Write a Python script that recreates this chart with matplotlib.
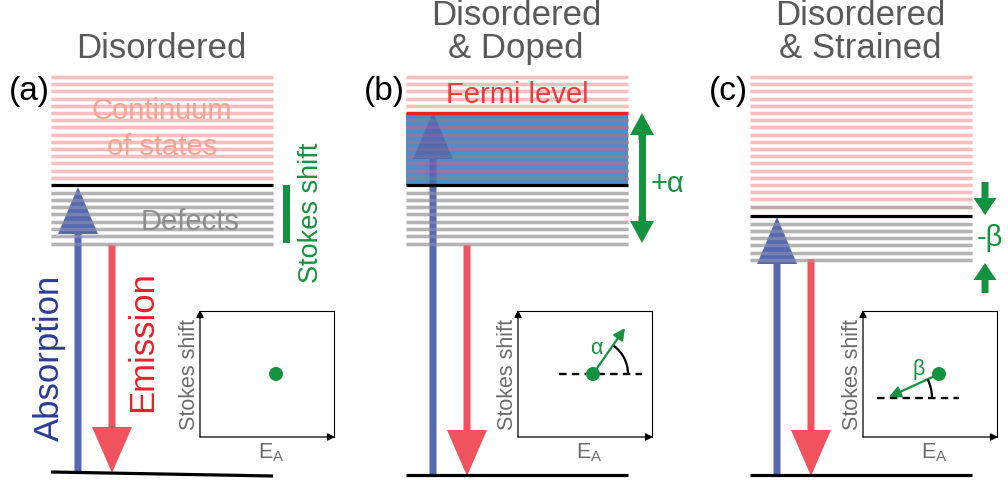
import matplotlib.pyplot as plt
from matplotlib.patches import FancyArrow, Rectangle, Circle, Arc

plt.rcParams['font.family'] = ['Liberation Sans', 'DejaVu Sans']
plt.rcParams['mathtext.fontset'] = 'custom'
plt.rcParams['mathtext.rm'] = 'Liberation Sans'

# ---- schematic values (figure pixels, y grows downward) ----
titles = [["Disordered"], ["Disordered", "& Doped"], ["Disordered", "& Strained"]]
panel_labels = ["(a)", "(b)", "(c)"]
band_left = [51, 406, 750]
n_continuum = [15, 15, 19]      # number of continuum levels
n_defects = [8, 8, 6]           # number of defect levels
edge_y = [185, 185, 216]        # band edge (black line)
fermi_index = [None, 5, None]   # continuum level replaced by the Fermi level
absorb_top = [187, 112, 217]
emit_top = [245, 245, 259]
ground_y = [(472, 476), (475, 475), (475, 475)]
inset_left = [200, 518, 863]
dot_xy = [(276, 374), (593, 374), (939, 374)]
shift_tip = [None, (625, 328), (889, 397)]
dash_span = [None, (559, 642), (877, 959)]
angle_names = [None, "α", "β"]

PINK = "#f9bcbf"
GRAY = "#b3b3b3"
GREEN = "#15923f"
BLUE = "#5568b0"
RED = "#f0535e"

fig = plt.figure(figsize=(10.08, 4.8), dpi=100)
ax = fig.add_axes([0, 0, 1, 1])
ax.set_xlim(0, 1008)
ax.set_ylim(480, 0)
ax.axis('off')

BW = 222
CONT_TOP = 77
CONT_STEP = 7.2
DEF_STEP = 7.3


def level_lines(i):
    out = []
    for k in range(n_continuum[i]):
        y = CONT_TOP + k * CONT_STEP
        c = PINK
        if fermi_index[i] is not None:
            if k == fermi_index[i] - 1:
                c = "#f6c3b2"
            elif k == fermi_index[i]:
                continue
            elif k > fermi_index[i]:
                c = "#8b7b9f"
        if i == 2 and k == n_continuum[i] - 1:
            c = "#bfaaaa"
        out.append((y, c))
    for k in range(n_defects[i]):
        out.append((edge_y[i] + 7.5 + k * DEF_STEP, GRAY))
    return out


for i in range(3):
    x0 = band_left[i]
    x1 = x0 + BW
    if fermi_index[i] is not None:
        fy = CONT_TOP + fermi_index[i] * CONT_STEP
        ax.add_patch(Rectangle((x0, fy), BW, edge_y[i] - fy, color="#4790d0", lw=0, zorder=0.5))
    lines = level_lines(i)
    for y, c in lines:
        ax.plot([x0, x1], [y, y], color=c, lw=2.5, solid_capstyle='butt', zorder=1)
    if fermi_index[i] is not None:
        fy = CONT_TOP + fermi_index[i] * CONT_STEP
        ax.plot([x0, x1], [fy, fy], color="#e8202f", lw=2.5, solid_capstyle='butt', zorder=4)
        ax.text((x0 + x1) / 2, 103, "Fermi level", color="#ef3b3b", fontsize=21,
                ha='center', va='baseline', zorder=5)
    ax.plot([x0, x1], [edge_y[i], edge_y[i]], color='black', lw=2.3, solid_capstyle='butt', zorder=4)
    ax.plot([x0, x1], list(ground_y[i]), color='black', lw=2.3, solid_capstyle='butt', zorder=4)

    # absorption and emission arrows
    ax_x = x0 + 27
    y0 = ground_y[i][0] + 1
    ax.add_patch(FancyArrow(ax_x, y0, 0, absorb_top[i] - y0, width=7, head_width=40,
                            head_length=47, length_includes_head=True, color=BLUE, lw=0, zorder=2))
    em_x = x0 + 61
    ax.add_patch(FancyArrow(em_x, emit_top[i], 0, ground_y[i][0] + 1 - emit_top[i], width=7,
                            head_width=40, head_length=46, length_includes_head=True,
                            color=RED, lw=0, zorder=2))
    # levels seen through the arrows
    for y, c in lines:
        ax.plot([x0, x1], [y, y], color=c, lw=2.5, solid_capstyle='butt', alpha=0.35, zorder=3)

    # titles and labels
    cx = x0 + BW / 2
    if len(titles[i]) == 1:
        ax.text(cx - 1, 58, titles[i][0], color="#595959", fontsize=25, ha='center', va='baseline')
    else:
        ax.text(cx - 1, 25, titles[i][0], color="#595959", fontsize=25, ha='center', va='baseline')
        ax.text(cx - 1, 58, titles[i][1], color="#595959", fontsize=25, ha='center', va='baseline')
    ax.text(x0 - 22, 100, panel_labels[i], color='black', fontsize=24, ha='center', va='baseline')

    # inset
    L = inset_left[i]
    R = L + 134
    T, B = 311, 437
    ax.plot([L, R], [T, T], color='black', lw=0.8)
    ax.plot([R, R], [T, B], color='black', lw=0.8)
    ax.annotate('', xy=(L, T - 1), xytext=(L, B),
                arrowprops=dict(arrowstyle='-|>', lw=0.9, color='black', mutation_scale=11,
                                shrinkA=0, shrinkB=0))
    ax.annotate('', xy=(R + 1, B), xytext=(L, B),
                arrowprops=dict(arrowstyle='-|>', lw=0.9, color='black', mutation_scale=11,
                                shrinkA=0, shrinkB=0))
    ax.text(L - 5, (T + B) / 2, "Stokes shift", color="#6b6b6b", fontsize=15.5, rotation=90,
            rotation_mode='anchor', ha='center', va='baseline')
    ax.text(L + 71, 458, r"E$_\mathregular{A}$", color="#6b6b6b", fontsize=15.5,
            ha='center', va='baseline')

    dx, dy = dot_xy[i]
    if shift_tip[i] is not None:
        tx, ty = shift_tip[i]
        line_y = dy if i == 1 else ty + 1
        ax.plot(list(dash_span[i]), [line_y, line_y], color='black', lw=1.7,
                linestyle=(0, (3.2, 2.2)), zorder=5)
        ax.annotate('', xy=(tx, ty), xytext=(dx, dy),
                    arrowprops=dict(arrowstyle='-|>', lw=1.6, color=GREEN, mutation_scale=17,
                                    shrinkA=0, shrinkB=0), zorder=6)
        if i == 1:
            ax.add_patch(Arc((dx, dy), 70, 70, theta1=-54, theta2=0, color='black', lw=1.6, zorder=6))
            ax.text(596, 348, angle_names[i], color=GREEN, fontsize=15.5, ha='center', va='center')
        else:
            ax.add_patch(Arc((tx, line_y), 86, 86, theta1=-26, theta2=0, color='black', lw=1.6, zorder=6))
            ax.text(919, 370, angle_names[i], color=GREEN, fontsize=15.5, ha='center', va='center')
    ax.add_patch(Circle((dx, dy), 7, color=GREEN, lw=0, zorder=7))

# panel (a) annotations
ax.text(162, 119, "Continuum", color="#f7a491", fontsize=21, ha='center', va='baseline', zorder=5)
ax.text(162, 155, "of states", color="#f7a491", fontsize=21, ha='center', va='baseline', zorder=5)
ax.text(190, 230, "Defects", color="#8c8c8c", fontsize=21, ha='center', va='baseline', zorder=5)
ax.text(59, 358, "Absorption", color="#2d3a94", fontsize=25, rotation=90,
        rotation_mode='anchor', ha='center', va='baseline')
ax.text(152, 342, "Emission", color="#e8202a", fontsize=25, rotation=90,
        rotation_mode='anchor', ha='center', va='baseline')
ax.add_patch(Rectangle((283, 185), 7, 58, color=GREEN, lw=0))
ax.text(318, 213, "Stokes shift", color=GREEN, fontsize=19.5, rotation=90,
        rotation_mode='anchor', ha='center', va='baseline')

# panel (b) shift
ax.plot([642, 642], [130, 226], color=GREEN, lw=5, solid_capstyle='butt')
ax.add_patch(FancyArrow(642, 140, 0, 113 - 140, width=7, head_width=24, head_length=22,
                        length_includes_head=True, color=GREEN, lw=0))
ax.add_patch(FancyArrow(642, 216, 0, 243 - 216, width=7, head_width=24, head_length=22,
                        length_includes_head=True, color=GREEN, lw=0))
ax.text(651, 192, "+α", color=GREEN, fontsize=21, ha='left', va='baseline')

# panel (c) shift
ax.add_patch(FancyArrow(985, 182, 0, 215 - 182, width=7, head_width=23, head_length=17,
                        length_includes_head=True, color=GREEN, lw=0))
ax.add_patch(FancyArrow(985, 293, 0, 263 - 293, width=7, head_width=23, head_length=17,
                        length_includes_head=True, color=GREEN, lw=0))
ax.text(990, 246, "-β", color=GREEN, fontsize=21, ha='center', va='baseline')

fig.savefig("out.png", dpi=100)
